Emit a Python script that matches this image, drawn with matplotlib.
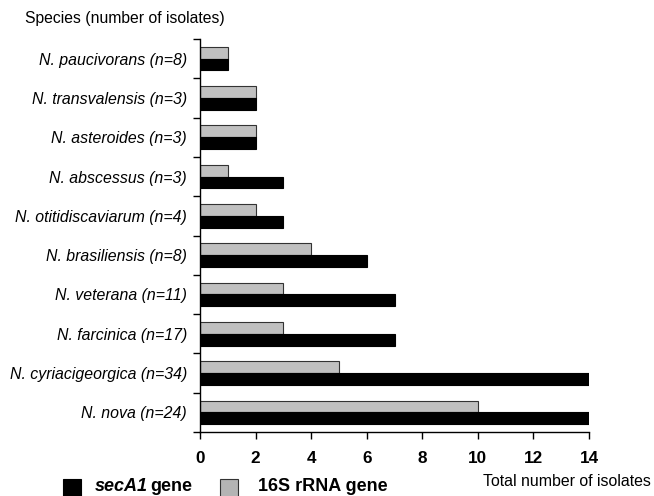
import matplotlib
matplotlib.use("Agg")
import matplotlib.pyplot as plt
from matplotlib.patches import Rectangle
import numpy as np

species = ["N. paucivorans (n=8)", "N. transvalensis (n=3)", "N. asteroides (n=3)",
           "N. abscessus (n=3)", "N. otitidiscaviarum (n=4)", "N. brasiliensis (n=8)",
           "N. veterana (n=11)", "N. farcinica (n=17)", "N. cyriacigeorgica (n=34)",
           "N. nova (n=24)"]
rrna16s = [1, 2, 2, 1, 2, 4, 3, 3, 5, 10]
seca1 = [1, 2, 2, 3, 3, 6, 7, 7, 14, 14]
xticks = [0, 2, 4, 6, 8, 10, 12, 14]

plt.rcParams['font.family'] = ['Liberation Sans', 'DejaVu Sans']

W, H = 654, 496
fig = plt.figure(figsize=(6.54, 4.96), dpi=100)
ax = fig.add_axes([200 / W, 1 - 432 / H, 389 / W, 393 / H])

y = np.arange(len(species))
h = 0.3
ax.barh(y - h / 2, rrna16s, height=h, color="#c0c0c0", edgecolor="#333333", linewidth=0.8)
ax.barh(y + h / 2, seca1, height=h, color="black", edgecolor="black", linewidth=0.8)

ax.set_ylim(len(species) - 0.5, -0.5)
ax.set_xlim(0, 14)
ax.set_xticks(xticks)
ax.set_xticklabels([str(t) for t in xticks], fontsize=12.3, fontweight="bold")
ax.set_yticks(y)
ax.set_yticklabels(species, fontsize=11.4, fontstyle="italic")
ax.tick_params(axis="y", length=0, pad=9.5)
ax.set_yticks(np.arange(-0.5, len(species), 1), minor=True)
ax.tick_params(axis="y", which="minor", length=5, width=1, direction="out")
ax.tick_params(axis="x", length=5, width=1, direction="out", pad=9)

for s in ["top", "right"]:
    ax.spines[s].set_visible(False)
ax.spines["left"].set_linewidth(1)
ax.spines["bottom"].set_linewidth(1)

fig.text(25 / W, 1 - 18 / H, "Species (number of isolates)", fontsize=11.3, va="center", ha="left")
fig.text(651 / W, 1 - 482 / H, "Total number of isolates", fontsize=11.4, va="center", ha="right")

# legend
base = 5 / H
fig.patches.append(Rectangle((63 / W, -0.01), 18 / W, 17 / H + 0.01, transform=fig.transFigure,
                             facecolor="black", edgecolor="black", linewidth=0.8))
fig.text(95 / W, base, "secA1", fontsize=13, fontweight="bold", fontstyle="italic",
         va="baseline", ha="left")
fig.text(150 / W, base, "gene", fontsize=13, fontweight="bold", va="baseline", ha="left")
fig.patches.append(Rectangle((220 / W, -0.01), 18 / W, 17 / H + 0.01, transform=fig.transFigure,
                             facecolor="#b4b4b4", edgecolor="#333333", linewidth=0.8))
fig.text(258 / W, base, "16S rRNA gene", fontsize=13, fontweight="bold", va="baseline", ha="left")

fig.savefig("out.png", dpi=100)
